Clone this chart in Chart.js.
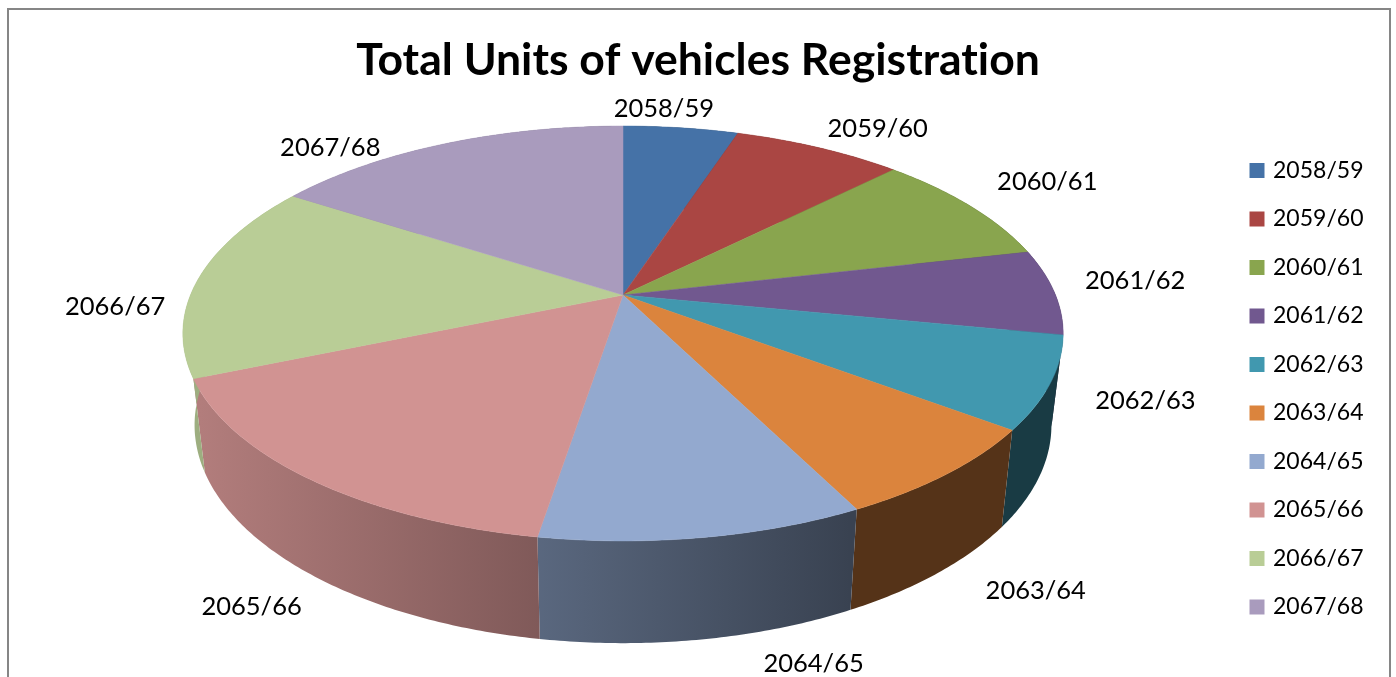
<!DOCTYPE html>
<html>
<head>
<meta charset="utf-8">
<title>Total Units of vehicles Registration</title>
<script src="https://cdn.jsdelivr.net/npm/chart.js@4"></script>
<style>
    html, body { margin: 0; padding: 0; background: #fff; overflow: hidden; }
    canvas { display: block; }
</style>
</head>
<body>
<canvas id="registrationChart" width="1396" height="677"></canvas>
<script>
const fiscalYears = ['2058/59', '2059/60', '2060/61', '2061/62', '2062/63', '2063/64', '2064/65', '2065/66', '2066/67', '2067/68'];
// no numbers printed in the picture, these are estimates from the slice sizes
const totalUnits = [1820, 2680, 3210, 2400, 2580, 2630, 3610, 5790, 5570, 5710];
const sliceColors = ['#4572A7', '#AA4643', '#89A54E', '#71588F', '#4198AF', '#DB843D', '#93A9CF', '#D19392', '#B9CD96', '#A99BBD'];

// label position relative to the rim point in the middle of each slice
const labelOffsets = [[-17, -19], [59, -19], [77, -24], [81, -11], [95, 18], [89, 117], [110, 126], [-58, 128], [-84, 29], [-115, 4]];

// perspective view of the disc: top face and the bottom face under it
const perspective = -0.1855;
const topFace = { x: 623, y: 295, rx: 432.5, ry: 200.3 };
const bottomFace = { x: 623, y: 384.7, rx: 421, ry: 210.5 };

function project(angle, face) {
    const w = 1 + perspective * Math.sin(angle);
    return {
        x: face.x + face.rx * Math.cos(angle) / w,
        y: face.y + face.ry * Math.sin(angle) / w
    };
}

function rimPath(ctx, start, end, face) {
    const steps = Math.max(2, Math.ceil(Math.abs(end - start) / 0.01));
    for (let i = 0; i <= steps; i++) {
        const p = project(start + (end - start) * i / steps, face);
        ctx.lineTo(p.x, p.y);
    }
}

function shade(hex, factor) {
    const n = parseInt(hex.slice(1), 16);
    const r = Math.round((n >> 16) * factor);
    const g = Math.round(((n >> 8) & 255) * factor);
    const b = Math.round((n & 255) * factor);
    return `rgb(${r},${g},${b})`;
}

const legendPadding = 25.5;

const pie3d = {
    id: 'pie3d',
    afterLayout(chart) {
        // legend sits lower and closer to the disc than the default layout puts it
        chart.legend.left = 1252.5 - legendPadding;
        chart.legend.top = 133.5;
        chart.legend.bottom = 677;
    },
    beforeDraw(chart) {
        const ctx = chart.ctx;
        ctx.letterSpacing = '0.01px'; // stops the "ti" ligature in the title
        // chart border, its bottom edge is cut off by the picture
        ctx.save();
        ctx.strokeStyle = '#868686';
        ctx.lineWidth = 2;
        ctx.strokeRect(8, 9, 1382, 700);
        ctx.restore();
    },
    beforeDatasetDraw(chart, args) {
        const ctx = chart.ctx;
        const arcs = args.meta.data;
        ctx.save();

        // side walls first, the top face covers the hidden part
        arcs.forEach((arc, i) => {
            const side = ctx.createLinearGradient(200, 0, 850, 0);
            side.addColorStop(0, shade(sliceColors[i], 0.85));
            side.addColorStop(1, shade(sliceColors[i], 0.39));
            ctx.beginPath();
            rimPath(ctx, arc.startAngle, arc.endAngle, topFace);
            rimPath(ctx, arc.endAngle, arc.startAngle, bottomFace);
            ctx.closePath();
            ctx.fillStyle = side;
            ctx.fill();
        });

        arcs.forEach((arc, i) => {
            ctx.beginPath();
            ctx.moveTo(topFace.x, topFace.y);
            rimPath(ctx, arc.startAngle, arc.endAngle, topFace);
            ctx.closePath();
            ctx.fillStyle = sliceColors[i];
            ctx.strokeStyle = sliceColors[i];
            ctx.lineWidth = 0.5;
            ctx.fill();
            ctx.stroke();
        });

        ctx.fillStyle = '#000';
        ctx.font = '25.5px Lato';
        ctx.textAlign = 'center';
        ctx.textBaseline = 'middle';
        arcs.forEach((arc, i) => {
            const p = project((arc.startAngle + arc.endAngle) / 2, topFace);
            ctx.fillText(fiscalYears[i], p.x + labelOffsets[i][0], p.y + labelOffsets[i][1]);
        });

        ctx.restore();
        return false; // the flat arcs are replaced by the 3d ones above
    }
};

new Chart(document.getElementById('registrationChart').getContext('2d'), {
    type: 'pie',
    data: {
        labels: fiscalYears,
        datasets: [{
            label: 'Total Units',
            data: totalUnits,
            backgroundColor: sliceColors,
            borderWidth: 0
        }]
    },
    options: {
        responsive: false,
        animation: false,
        plugins: {
            title: {
                display: true,
                text: 'Total Units of vehicles Registration',
                color: '#000',
                font: { family: 'Lato', size: 44.5, weight: 'bold' },
                padding: { top: 34, bottom: 9 }
            },
            legend: {
                position: 'right',
                align: 'start',
                labels: {
                    color: '#000',
                    font: { family: 'Lato', size: 23 },
                    // small box with a thick outline, keeps the text close to the swatch
                    boxWidth: 9,
                    boxHeight: 9,
                    padding: legendPadding,
                    generateLabels(chart) {
                        return Chart.overrides.pie.plugins.legend.labels.generateLabels(chart).map(item => {
                            item.strokeStyle = item.fillStyle;
                            item.lineWidth = 6;
                            return item;
                        });
                    }
                }
            },
            tooltip: { enabled: false }
        }
    },
    plugins: [pie3d]
});
</script>
</body>
</html>
